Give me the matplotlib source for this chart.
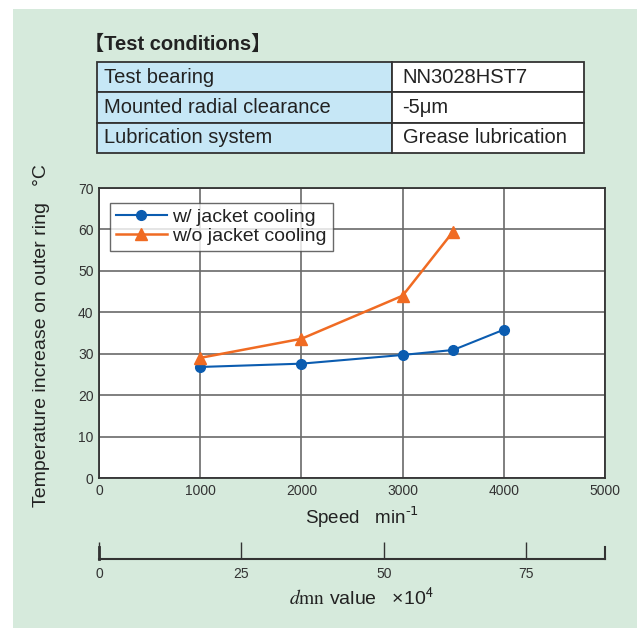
import matplotlib.pyplot as plt
from matplotlib.patches import Rectangle

plt.rcParams['font.family'] = ['Liberation Sans', 'DejaVu Sans']

# data
speed_w = [1000, 2000, 3000, 3500, 4000]
temp_w = [26.8, 27.6, 29.7, 30.9, 35.8]
speed_wo = [1000, 2000, 3000, 3500]
temp_wo = [29.0, 33.6, 44.0, 59.5]

cond_names = ["Test bearing", "Mounted radial clearance", "Lubrication system"]
cond_values = ["NN3028HST7", "-5\u03bcm", "Grease lubrication"]

speed_ticks = [0, 1000, 2000, 3000, 4000, 5000]
temp_ticks = [0, 10, 20, 30, 40, 50, 60, 70]
dmn_ticks = [0, 25, 50, 75]
dmn_max = 88.8   # dmn (x10^4) at 5000 min-1

W, H = 637, 628
bg = '#d6eadc'
blue = '#0b5cb0'
orange = '#f06b23'
txt = '#222222'

fig = plt.figure(figsize=(W / 100, H / 100), dpi=100)
fig.patch.set_facecolor('white')
fig.patches.append(Rectangle((13 / W, 0), 1, 1 - 9 / H, transform=fig.transFigure,
                             facecolor=bg, edgecolor='none', zorder=-10))

def box(x0, y0, x1, y1):
    # pixel box (top-left origin) -> figure fraction rect
    return [x0 / W, 1 - y1 / H, (x1 - x0) / W, (y1 - y0) / H]

# test conditions table
fig.text(84 / W, 1 - 44 / H, "\u3010Test conditions\u3011", fontsize=14.5, fontweight='bold',
         va='center', ha='left', color=txt, family=['Liberation Sans', 'Noto Sans CJK JP'])
tax = fig.add_axes(box(97, 62, 584, 153))
tax.axis('off')
rows = [[n, v] for n, v in zip(cond_names, cond_values)]
tbl = tax.table(cellText=rows, bbox=[0, 0, 1, 1], colWidths=[295, 192],
                cellColours=[['#c6e7f6', 'white']] * len(rows), cellLoc='left')
tbl.auto_set_font_size(False)
for (r, c), cell in tbl.get_celld().items():
    cell.set_fontsize(14.5)
    cell.set_linewidth(1.3)
    cell.set_edgecolor('#333333')
    cell.get_text().set_color(txt)
    cell.PAD = 0.024 if c == 0 else 0.055

# main chart
ax = fig.add_axes(box(99, 188, 605, 478))
ax.set_facecolor('white')
ax.plot(speed_w, temp_w, '-o', color=blue, lw=1.5, ms=7, label="w/ jacket cooling", zorder=3)
ax.plot(speed_wo, temp_wo, '-^', color=orange, lw=1.8, ms=8, label="w/o jacket cooling", zorder=3)
ax.set_xlim(0, 5000)
ax.set_ylim(0, 70)
ax.set_xticks(speed_ticks)
ax.set_yticks(temp_ticks)
ax.grid(True, color='#6a6a6a', lw=1.2)
ax.tick_params(length=0, labelsize=10, colors='#333333', pad=4)
for s in ax.spines.values():
    s.set_color('#333333')
    s.set_linewidth(1.3)
ax.set_ylabel("Temperature increase on outer ring   \u00b0C", fontsize=14, color=txt)
ax.yaxis.set_label_coords(-0.097, 0.49)
ax.set_xlabel(r"Speed   min$^{\text{-1}}$", fontsize=13.5, color=txt)
ax.xaxis.set_label_coords(0.52, -0.09)
leg = ax.legend(loc='upper left', bbox_to_anchor=(0.022, 0.95), fontsize=14, frameon=True,
                fancybox=False, borderpad=0.3, handlelength=2.6, handletextpad=0.3,
                labelspacing=0.08, borderaxespad=0)
leg.get_frame().set_edgecolor('#444444')
leg.get_frame().set_linewidth(1.0)
for t in leg.get_texts():
    t.set_color(txt)

# dmn scale
dax = fig.add_axes(box(99, 547, 605, 559))
dax.patch.set_visible(False)
dax.set_xlim(0, dmn_max)
dax.set_ylim(0, 1)
dax.set_yticks([])
dax.set_xticks(dmn_ticks)
dax.tick_params(axis='x', direction='in', length=12, width=1, labelsize=10,
                colors='#333333', pad=6)
dax.spines['top'].set_visible(False)
dax.spines['left'].set_linewidth(2)
dax.spines['right'].set_linewidth(1.5)
for s in ['bottom', 'left', 'right']:
    dax.spines[s].set_color('#333333')
dax.spines['bottom'].set_linewidth(1.5)
fig.text(362 / W, 1 - 598 / H, "$d\\mathrm{mn}$ value   \u00d710$^{\\mathsf{4}}$", fontsize=14,
         ha='center', va='center', color=txt, math_fontfamily='stix')

fig.savefig("out.png", dpi=100, facecolor=fig.get_facecolor())
